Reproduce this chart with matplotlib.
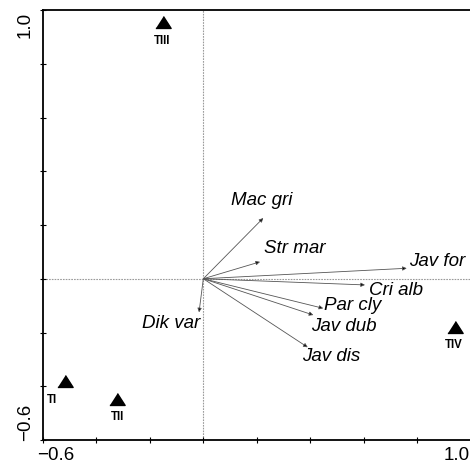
import matplotlib
matplotlib.use('Agg')
import matplotlib.pyplot as plt
import matplotlib.transforms as mtransforms

plt.rcParams['font.family'] = ['Liberation Sans', 'DejaVu Sans']

# species arrows (tips) and where their names sit
species = ['Mac gri', 'Str mar', 'Jav for', 'Cri alb', 'Par cly', 'Jav dub', 'Jav dis', 'Dik var']
sp_x = [0.224, 0.212, 0.760, 0.604, 0.448, 0.411, 0.390, -0.016]
sp_y = [0.226, 0.063, 0.039, -0.023, -0.110, -0.135, -0.255, -0.125]
lab_x = [0.219, 0.340, 0.873, 0.718, 0.559, 0.524, 0.479, -0.122]
lab_y = [0.293, 0.114, 0.064, -0.042, -0.098, -0.176, -0.288, -0.166]

# treatments (triangles)
treat = ['TI', 'TII', 'TIII', 'TIV']
tr_x = [-0.517, -0.321, -0.150, 0.940]
tr_y = [-0.382, -0.446, 0.955, -0.180]
tlab_x = [-0.567, -0.321, -0.155, 0.937]
tlab_y = [-0.451, -0.514, 0.885, -0.247]

ticks = [-0.6, -0.4, -0.2, 0.0, 0.2, 0.4, 0.6, 0.8, 1.0]

fig = plt.figure(figsize=(4.7, 4.65), dpi=100)
ax = fig.add_axes([42.7 / 470, 25 / 465, 428.3 / 470, 430 / 465])
ax.set_xlim(-0.6, 1.0)
ax.set_ylim(-0.6, 1.0)

ax.axhline(0, color='#9a9a9a', lw=0.8, ls=(0, (1.5, 1)), zorder=1)
ax.axvline(0, color='#9a9a9a', lw=0.8, ls=(0, (1.5, 1)), zorder=1)

for name, x, y, lx, ly in zip(species, sp_x, sp_y, lab_x, lab_y):
    ax.annotate('', xy=(x, y), xytext=(0, 0),
                arrowprops=dict(arrowstyle='-|>', ec='#555555', fc='black',
                                lw=0.6, mutation_scale=6, shrinkA=0, shrinkB=0))
    ax.text(lx, ly, name, style='italic', fontsize=13.5, ha='center', va='center')

tri = [(-1, -0.78), (1, -0.78), (0, 0.78)]
ax.plot(tr_x, tr_y, ls='none', marker=tri, ms=11, color='black', zorder=3)
for name, lx, ly in zip(treat, tlab_x, tlab_y):
    ax.text(lx, ly, name, fontsize=8.3, fontweight='bold', ha='center', va='center')

ax.spines['right'].set_visible(False)
for s in ['left', 'bottom', 'top']:
    ax.spines[s].set_linewidth(1.3)
ax.set_xticks(ticks)
ax.set_yticks(ticks)
ax.set_xticklabels([])
ax.set_yticklabels([])
ax.tick_params(direction='inout', length=5, width=0.8)

# end labels of the axes
tx = mtransforms.blended_transform_factory(ax.transData, ax.transAxes)
ty = mtransforms.blended_transform_factory(ax.transAxes, ax.transData)
ax.text(-0.550, -0.035, '\u22120.6', transform=tx, fontsize=13.5, ha='center', va='center', clip_on=False)
ax.text(0.945, -0.035, '1.0', transform=tx, fontsize=13.5, ha='center', va='center', clip_on=False)
ax.text(-0.040, 0.944, '1.0', transform=ty, fontsize=13.5, rotation=90, ha='center', va='center', clip_on=False)
ax.text(-0.040, -0.533, '\u22120.6', transform=ty, fontsize=13.5, rotation=90, ha='center', va='center', clip_on=False)

fig.savefig('out.png', dpi=100)
